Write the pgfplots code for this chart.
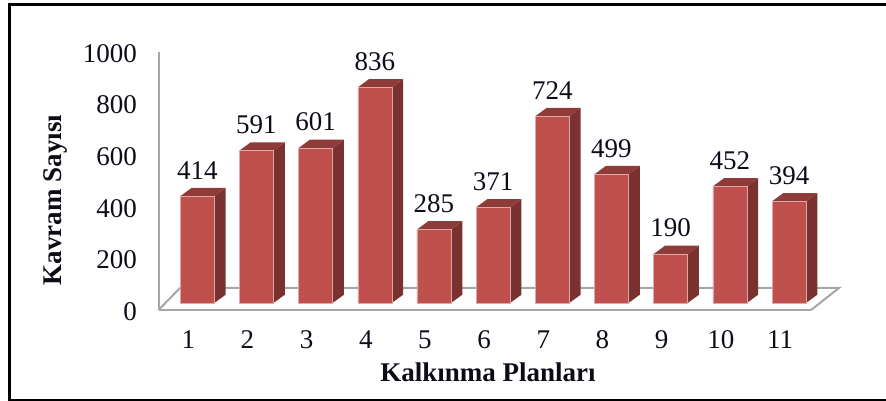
\documentclass[border=0pt]{standalone}
\usepackage{fontspec}
\setmainfont{Liberation Serif}
\usepackage{pgfplots}
\pgfplotsset{compat=1.18}
\definecolor{barfront}{HTML}{C0504D}
\definecolor{barside}{HTML}{7A3230}
\definecolor{bartop}{HTML}{8F3B39}
\definecolor{baredge}{HTML}{DDA9A7}
\definecolor{axisgray}{HTML}{A6A6A6}
\definecolor{inktext}{HTML}{0C0C18}
\newcommand{\barfaces}[2]{%
  \pgfmathsetmacro{\xr}{#1+0.2873}%
  \pgfmathsetmacro{\xl}{#1-0.2873}%
  \pgfmathsetmacro{\xrb}{#1+0.2873+0.191}%
  \pgfmathsetmacro{\xlb}{#1-0.2873+0.191}%
  \pgfmathsetmacro{\yb}{#2+32}%
  \addplot[draw=none,fill=barside,forget plot,xshift=9pt,yshift=7pt] coordinates {(\xr,0) (\xrb,32) (\xrb,\yb) (\xr,#2)} -- cycle;
  \addplot[draw=none,fill=bartop,forget plot,xshift=9pt,yshift=7pt] coordinates {(\xl,#2) (\xr,#2) (\xrb,\yb) (\xlb,\yb)} -- cycle;
}
\begin{document}
\begin{tikzpicture}[x=1pt,y=1pt]
\path[use as bounding box] (0,0) rectangle (886,401);
\draw[black,line width=2.4pt] (886,1.0) -- (9.5,1.0) -- (9.5,396.3) -- (886,396.3);
\begin{axis}[
  at={(158.5pt,91pt)},anchor=south west,
  scale only axis,width=652.5pt,height=258pt,
  xmin=0.4964,xmax=11.524,ymin=0,ymax=1000,
  clip=false,
  axis x line*=bottom,axis y line*=left,
  axis line style={axisgray,line width=2pt,-},
  major tick length=0pt,
  xtick={1,...,11},
  ytick={0,200,400,600,800,1000},
  tick label style={font=\fontsize{27}{29}\selectfont,text=inktext},
  /pgf/number format/assume math mode=true,
  /pgf/number format/1000 sep={},
  yticklabel style={xshift=-18pt,yshift=-1.5pt},
  xticklabel style={yshift=-17pt},
  xlabel={Kalkınma Planları},
  ylabel={Kavram Sayısı},
  every axis x label/.style={at={(rel axis cs:0.505,-0.24)},anchor=center,font=\fontsize{27}{29}\selectfont\bfseries,text=inktext},
  every axis y label/.style={at={(rel axis cs:-0.158,0.426)},anchor=center,rotate=90,font=\fontsize{27}{29}\selectfont\bfseries,text=inktext},
]
% floor
\addplot[axisgray,line width=2pt,forget plot] coordinates {(0.4964,0) (0.86,85.3) (11.997,85.3) (11.524,0)};
\barfaces{1}{414}
\barfaces{2}{591}
\barfaces{3}{601}
\barfaces{4}{836}
\barfaces{5}{285}
\barfaces{6}{371}
\barfaces{7}{724}
\barfaces{8}{499}
\barfaces{9}{190}
\barfaces{10}{452}
\barfaces{11}{394}
\addplot[ybar,bar width=34pt,fill=barfront,draw=baredge,line width=0.6pt,xshift=9pt,yshift=7pt,
  nodes near coords,point meta=y,
  nodes near coords style={font=\fontsize{27}{29}\selectfont,text=inktext,anchor=base,yshift=17pt,
    /pgf/number format/assume math mode=true,/pgf/number format/1000 sep={}}]
 coordinates {(1,414) (2,591) (3,601) (4,836) (5,285) (6,371) (7,724) (8,499) (9,190) (10,452) (11,394)};
\end{axis}
\end{tikzpicture}
\end{document}
